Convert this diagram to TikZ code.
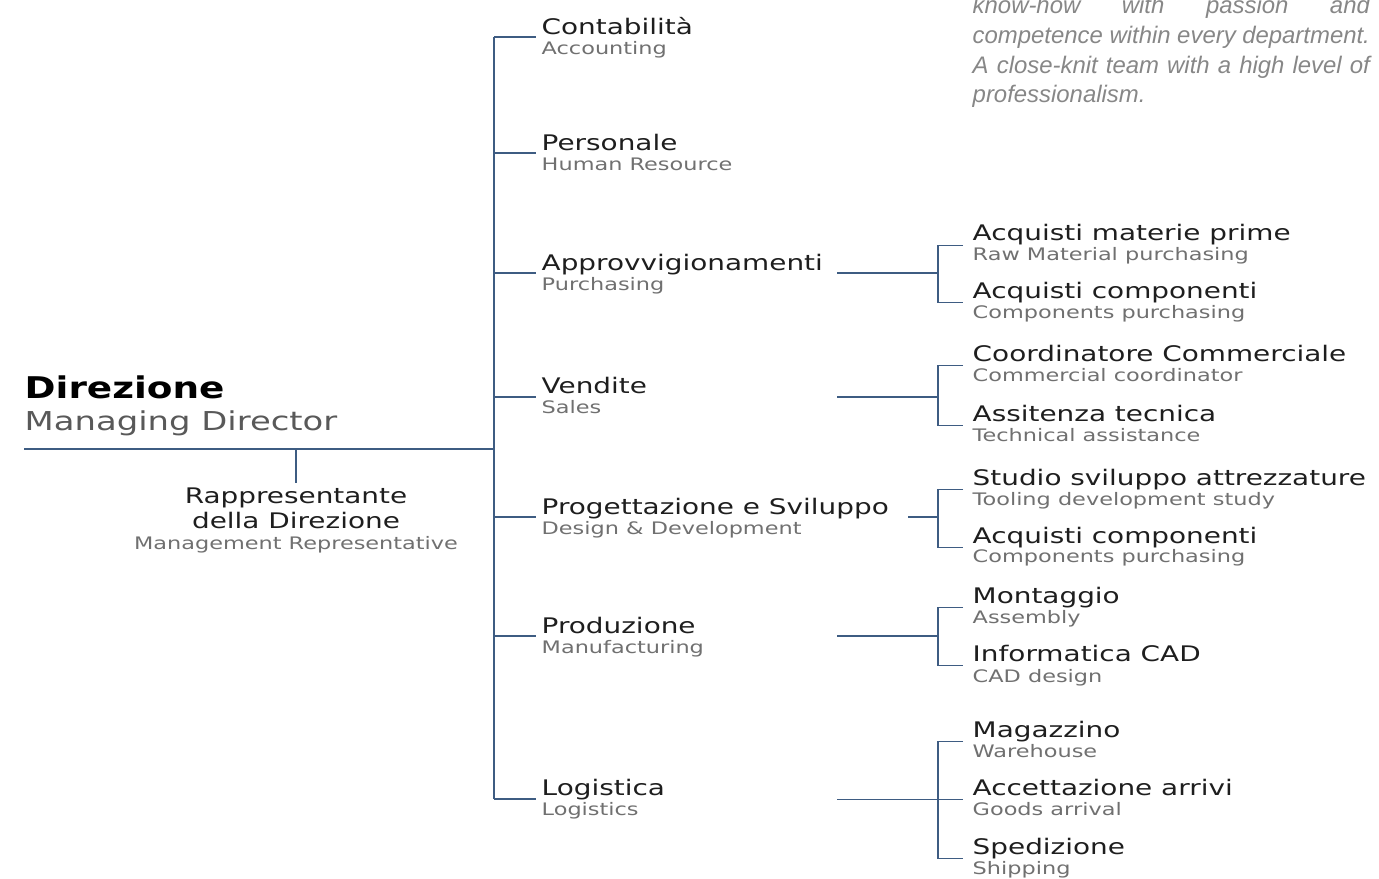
\documentclass[tikz,border=0pt]{standalone}
\usepackage{fontspec}
\newfontfamily\widefont{DejaVu Sans}[FakeStretch=1.3]
\newfontfamily\blackfont{DejaVu Sans}[FakeStretch=1.25]
\newfontfamily\parafont{Liberation Sans}
\definecolor{linkblue}{RGB}{62,92,130}
\definecolor{titlegray}{RGB}{30,30,30}
\definecolor{subgray}{RGB}{112,112,112}
\definecolor{paragray}{RGB}{135,135,135}
\tikzset{
  ttl/.style={inner sep=0pt, anchor=base west, text=titlegray, font=\widefont\fontsize{6.1}{7}\selectfont},
  sub/.style={inner sep=0pt, anchor=base west, text=subgray, font=\widefont\fontsize{4.9}{6}\selectfont},
  para/.style={inner sep=0pt, anchor=base west, text=paragray, font=\parafont\itshape\fontsize{6.8}{8}\selectfont},
  link/.style={draw=linkblue, line width=0.45pt},
}

\begin{document}
\begin{tikzpicture}[x=0.01cm, y=-0.01cm]
\useasboundingbox (0,0) rectangle (1379,879);

% text top right
\node[para] (para1) at (972,14) {\makebox[3.97cm][s]{know-how with passion and}};
\node[para] (para2) at (972,44) {\makebox[3.97cm][s]{competence within every department.}};
\node[para] (para3) at (972,74) {\makebox[3.97cm][s]{A close-knit team with a high level of}};
\node[para] (para4) at (972,103) {professionalism.};

% direzione
\node[ttl, text=black, font=\blackfont\bfseries\fontsize{8.5}{9}\selectfont] (dir) at (24,398) {Direzione};
\node[sub, text=black!65, font=\widefont\fontsize{7.4}{8}\selectfont] (dirsub) at (24,430) {Managing Director};
\coordinate (lineL) at (24,449);
\coordinate (root) at (494,449);
\coordinate (stub) at (296,449);
\node[ttl, anchor=base] (rep1) at (296,503) {Rappresentante};
\node[ttl, anchor=base] (rep2) at (296,528) {della Direzione};
\node[sub, anchor=base] (repsub) at (296,549) {Management Representative};
\draw[link] (lineL) -- (root);
\draw[link] (stub) -- ([yshift=2mm]rep1.base);

% reparti
\node[ttl] (cont) at (541,35) {Contabilità};
\node[sub] (contsub) at (541,55) {Accounting};
\node[ttl] (pers) at (541,151) {Personale};
\node[sub] (perssub) at (541,171) {Human Resource};
\node[ttl] (appr) at (541,271) {Approvvigionamenti};
\node[sub] (apprsub) at (541,290) {Purchasing};
\node[ttl] (vend) at (541,393) {Vendite};
\node[sub] (vendsub) at (541,413) {Sales};
\node[ttl] (prog) at (541,514) {Progettazione e Sviluppo};
\node[sub] (progsub) at (541,534) {Design \& Development};
\node[ttl] (prod) at (541,633) {Produzione};
\node[sub] (prodsub) at (541,653) {Manufacturing};
\node[ttl] (logi) at (541,795) {Logistica};
\node[sub] (logisub) at (541,815) {Logistics};

\draw[link] ([yshift=-0.2mm]root |- cont.base) -- ([yshift=-0.4mm]root |- logi.base);
\draw[link] ([yshift=-0.2mm]root |- cont.base) -- ([xshift=-0.5mm,yshift=-0.2mm]cont.base west);
\draw[link] ([yshift=-0.2mm]root |- pers.base) -- ([xshift=-0.5mm,yshift=-0.2mm]pers.base west);
\draw[link] ([yshift=-0.2mm]root |- appr.base) -- ([xshift=-0.5mm,yshift=-0.2mm]appr.base west);
\draw[link] ([yshift=-0.4mm]root |- vend.base) -- ([xshift=-0.5mm,yshift=-0.4mm]vend.base west);
\draw[link] ([yshift=-0.3mm]root |- prog.base) -- ([xshift=-0.5mm,yshift=-0.3mm]prog.base west);
\draw[link] ([yshift=-0.3mm]root |- prod.base) -- ([xshift=-0.5mm,yshift=-0.3mm]prod.base west);
\draw[link] ([yshift=-0.4mm]root |- logi.base) -- ([xshift=-0.5mm,yshift=-0.4mm]logi.base west);

% uffici
\node[ttl] (ami) at (972,241) {Acquisti materie prime};
\node[sub] (amisub) at (972,261) {Raw Material purchasing};
\node[ttl] (acp) at (972,298) {Acquisti componenti};
\node[sub] (acpsub) at (972,318) {Components purchasing};
\node[ttl] (coo) at (972,361) {Coordinatore Commerciale};
\node[sub] (coosub) at (972,381) {Commercial coordinator};
\node[ttl] (ass) at (972,421) {Assitenza tecnica};
\node[sub] (asssub) at (972,441) {Technical assistance};
\node[ttl] (stu) at (972,485) {Studio sviluppo attrezzature};
\node[sub] (stusub) at (972,505) {Tooling development study};
\node[ttl] (acq) at (972,543) {Acquisti componenti};
\node[sub] (acqsub) at (972,562) {Components purchasing};
\node[ttl] (mon) at (972,603) {Montaggio};
\node[sub] (monsub) at (972,623) {Assembly};
\node[ttl] (inf) at (972,661) {Informatica CAD};
\node[sub] (infsub) at (972,682) {CAD design};
\node[ttl] (mag) at (972,737) {Magazzino};
\node[sub] (magsub) at (972,757) {Warehouse};
\node[ttl] (acc) at (972,795) {Accettazione arrivi};
\node[sub] (accsub) at (972,815) {Goods arrival};
\node[ttl] (spe) at (972,854) {Spedizione};
\node[sub] (spesub) at (972,874) {Shipping};

\coordinate (hx) at (837,0);
\coordinate (hxp) at (908,0);
\coordinate (bx) at (938,0);
\coordinate (amiT) at ([xshift=-0.9mm,yshift=-0.45mm]ami.base west);
\coordinate (acpT) at ([xshift=-0.9mm,yshift=-0.45mm]acp.base west);
\coordinate (cooT) at ([xshift=-0.9mm,yshift=-0.45mm]coo.base west);
\coordinate (assT) at ([xshift=-0.9mm,yshift=-0.45mm]ass.base west);
\coordinate (stuT) at ([xshift=-0.9mm,yshift=-0.45mm]stu.base west);
\coordinate (acqT) at ([xshift=-0.9mm,yshift=-0.45mm]acq.base west);
\coordinate (monT) at ([xshift=-0.9mm,yshift=-0.45mm]mon.base west);
\coordinate (infT) at ([xshift=-0.9mm,yshift=-0.45mm]inf.base west);
\coordinate (magT) at ([xshift=-0.9mm,yshift=-0.45mm]mag.base west);
\coordinate (accT) at ([xshift=-0.9mm,yshift=-0.45mm]acc.base west);
\coordinate (speT) at ([xshift=-0.9mm,yshift=-0.45mm]spe.base west);

\draw[link] (amiT) -| (bx |- acpT) -- (acpT);
\draw[link] ([yshift=-0.2mm]appr.base -| hx) -- ([yshift=-0.2mm]appr.base -| bx);
\draw[link] (cooT) -| (bx |- assT) -- (assT);
\draw[link] ([yshift=-0.4mm]vend.base -| hx) -- ([yshift=-0.4mm]vend.base -| bx);
\draw[link] (stuT) -| (bx |- acqT) -- (acqT);
\draw[link] ([yshift=-0.3mm]prog.base -| hxp) -- ([yshift=-0.3mm]prog.base -| bx);
\draw[link] (monT) -| (bx |- infT) -- (infT);
\draw[link] ([yshift=-0.3mm]prod.base -| hx) -- ([yshift=-0.3mm]prod.base -| bx);
\draw[link] (magT) -| (bx |- speT) -- (speT);
\draw[link] (accT -| hx) -- (accT);
\end{tikzpicture}
\end{document}
